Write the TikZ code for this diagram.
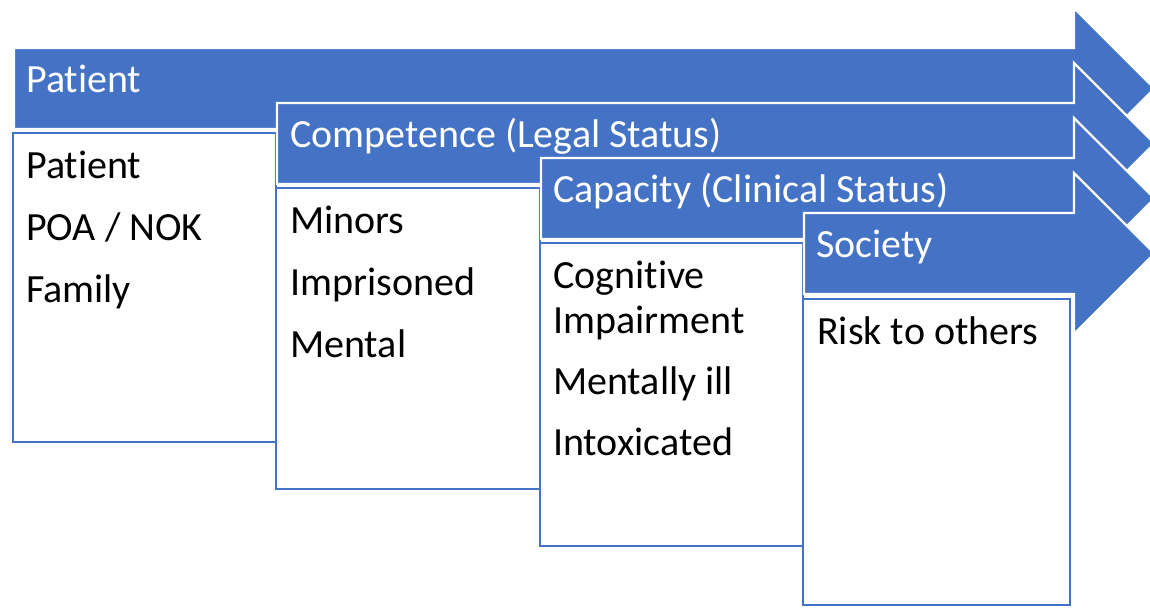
\documentclass[tikz,border=0pt]{standalone}
\usepackage{fontspec}
\setmainfont[Ligatures={NoCommon,NoRare,NoContextual}]{Carlito}
\definecolor{offblue}{HTML}{4472C4}
\begin{document}
\begin{tikzpicture}[x=1pt,y=-1pt,
  arrowshape/.style={fill=offblue,draw=white,line width=2.2pt,line join=miter},
  listbox/.style={fill=white,draw=offblue,line width=2.6pt},
  headtext/.style={anchor=base west,inner sep=0pt,text=white,font=\fontsize{40}{48}\selectfont},
  itemtext/.style={anchor=base west,inner sep=0pt,text=black,font=\fontsize{40}{48}\selectfont}]
\useasboundingbox (0,0) rectangle (1150,609);
% arrow 1
\draw[arrowshape] (14,48) -- (1074,48) -- (1074,8) -- (1154.5,88.5) -- (1074,169) -- (1074,129) -- (14,129) -- cycle;
\draw[listbox] (13,133) rectangle (276,442);
\node[headtext] (h1) at (26,93) {Pat\kern0pt ient};
\node[itemtext] (a1) at (26,179) {Pat\kern0pt ient};
\node[itemtext] (a2) at (26,241) {POA / NOK};
\node[itemtext] (a3) at (26,302) {Family};
% arrow 2
\draw[arrowshape] (277,103) -- (1074,103) -- (1074,63) -- (1154.5,143.5) -- (1074,224) -- (1074,184) -- (277,184) -- cycle;
\draw[listbox] (276,188) rectangle (540,489);
\node[headtext] (h2) at (290,148) {Competence (Legal Status)};
\node[itemtext] (b1) at (290,234) {Minors};
\node[itemtext] (b2) at (290,296) {Imprisoned};
\node[itemtext] (b3) at (290,357) {Mental};
% arrow 3
\draw[arrowshape] (541,158) -- (1074,158) -- (1074,118) -- (1154.5,198.5) -- (1074,279) -- (1074,239) -- (541,239) -- cycle;
\draw[listbox] (540,243) rectangle (803,546);
\node[headtext] (h3) at (553,203) {Capacity (Clinical Status)};
\node[itemtext] (c1) at (553,289) {Cognit\kern0pt ive};
\node[itemtext] (c2) at (553,333) {Impairment};
\node[itemtext] (c3) at (553,394) {Mentally ill};
\node[itemtext] (c4) at (553,455) {Intoxicated};
% arrow 4
\draw[arrowshape] (804,213) -- (1074,213) -- (1074,173) -- (1154.5,253.5) -- (1074,334) -- (1074,294) -- (804,294) -- cycle;
\draw[listbox] (803,299) rectangle (1070,605);
\node[headtext] (h4) at (816,258) {Society};
\node[itemtext] (d1) at (817,344) {Risk to others};
\end{tikzpicture}
\end{document}
